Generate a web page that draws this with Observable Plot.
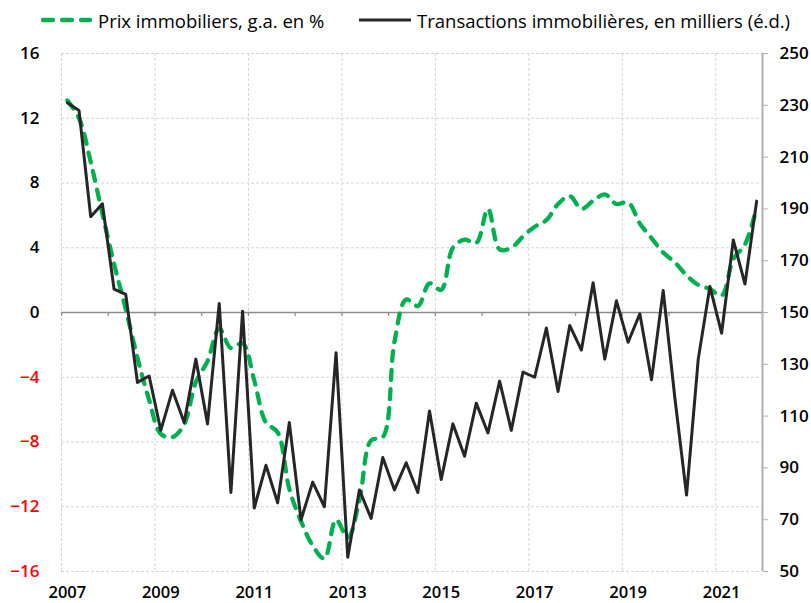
<!DOCTYPE html>
<html>
<head>
<meta charset="utf-8">
<script src="https://cdn.jsdelivr.net/npm/d3@7"></script>
<script src="https://cdn.jsdelivr.net/npm/@observablehq/plot@0.6"></script>
<style>
  body { margin: 0; background: #fff; font-family: "Open Sans", "Noto Sans", sans-serif; }
  #legend { position: relative; width: 811px; height: 40px; font-size: 18.5px; color: #000; }
  #legend .item { position: absolute; top: 0; height: 40px; display: flex; align-items: center; white-space: nowrap; }
  #legend svg { margin-right: 6px; }
</style>
</head>
<body>
<div id="legend">
  <div class="item" style="left:40px">
    <svg width="52" height="10"><line x1="3" y1="5" x2="50" y2="5" stroke="#00b050" stroke-width="4.3" stroke-dasharray="10,9" stroke-linecap="round"/></svg>
    <span>Prix immobiliers, g.a. en %</span>
  </div>
  <div class="item" style="left:359px">
    <svg width="52" height="10"><line x1="0" y1="5" x2="52" y2="5" stroke="#262626" stroke-width="3"/></svg>
    <span>Transactions immobilières, en milliers (é.d.)</span>
  </div>
</div>
<div id="chart"></div>
<script>
// Quarterly data, 2007Q1 to 2021Q4
const startYear = 2007;
const prixImmobiliers = [
  13.1, 12.0, 9.3, 6.1, 3.0, 0.2, -2.8, -5.4, -7.5, -7.7,
  -6.9, -4.3, -3.0, -1.0, -2.2, -1.9, -4.2, -6.8, -7.4, -10.9,
  -12.9, -14.4, -15.2, -12.8, -13.9, -11.6, -7.9, -7.7, -1.8, 0.8,
  0.4, 1.8, 1.4, 4.0, 4.5, 4.3, 6.4, 3.9, 4.0, 4.7,
  5.3, 5.7, 6.7, 7.2, 6.4, 6.9, 7.3, 6.7, 6.8, 5.5,
  4.6, 3.7, 3.1, 2.3, 1.7, 1.45, 1.05, 3.3, 4.2, 6.5
];
const transactions = [
  231, 228, 187, 192, 159, 157, 123, 125.5, 104.5, 120,
  107.5, 132, 107, 153.5, 80.5, 150.5, 74.5, 91, 76.5, 107.5,
  70, 84.5, 75, 134.5, 55.5, 81.5, 70.5, 94, 81.5, 92,
  80.5, 112, 85.5, 107, 94.5, 115, 103.5, 123.5, 104.5, 127,
  125, 144, 119.5, 145, 135.5, 161.5, 132, 154.5, 138.5, 149.5,
  124, 158.5, 117, 79.5, 132, 160, 142, 178, 161, 193
];
const leftTicks = [-16, -12, -8, -4, 0, 4, 8, 12, 16];
const rightTicks = [50, 70, 90, 110, 130, 150, 170, 190, 210, 230, 250];
const yearLabels = [2007, 2009, 2011, 2013, 2015, 2017, 2019, 2021];
const allYears = d3.range(2007, 2023);

// right axis (transactions) mapped onto left axis (prices)
const rightMid = 150, rightPerLeft = 6.25;
const toLeft = t => (t - rightMid) / rightPerLeft;
const toRight = v => rightMid + v * rightPerLeft;

const data = prixImmobiliers.map((p, i) => ({
  date: startYear + (i + 0.5) / 4,
  prix: p,
  trans: transactions[i]
}));

const gridColor = "#d4d4d4";
const tickFont = { fontSize: 17, fontWeight: 600 };
const chart = Plot.plot({
  width: 811,
  height: 563,
  marginTop: 13,
  marginBottom: 32,
  marginLeft: 61,
  marginRight: 49,
  style: { fontFamily: "'Open Sans', 'Noto Sans', sans-serif", fontSize: "17px", color: "#000", background: "#fff" },
  x: { domain: [2007, 2022], label: null },
  y: { domain: [-16, 16], label: null },
  marks: [
    Plot.gridY(leftTicks.filter(d => d !== 0), { stroke: gridColor, strokeOpacity: 1, strokeDasharray: "3,2" }),
    Plot.gridX(yearLabels, { stroke: gridColor, strokeOpacity: 1, strokeDasharray: "3,2" }),
    Plot.ruleY([0], { stroke: "#8c8c8c", strokeWidth: 1.5 }),
    Plot.ruleX(allYears, { y1: 0, y2: 0, insetBottom: -4, stroke: "#8c8c8c", strokeWidth: 1.2 }),
    Plot.ruleX([2022], { stroke: "#b0b0b0", strokeWidth: 2 }),
    Plot.axisY(rightTicks.map(toLeft), {
      anchor: "right", tickFormat: d => String(Math.round(toRight(d))),
      tickSize: 5, tickPadding: 12, stroke: "#b0b0b0", fill: "#000", label: null, ...tickFont
    }),
    Plot.axisY(leftTicks.filter(d => d >= 0), { anchor: "left", tickSize: 0, tickPadding: 22, fill: "#000", label: null, ...tickFont }),
    Plot.axisY(leftTicks.filter(d => d < 0), { anchor: "left", tickSize: 0, tickPadding: 22, fill: "#ff0000", label: null, ...tickFont }),
    Plot.axisX(yearLabels.map(y => y + 0.125), {
      anchor: "bottom", tickFormat: d => String(Math.floor(d)), tickSize: 0, tickPadding: 15,
      fill: "#000", label: null, fontSize: 16.5, fontWeight: 600
    }),
    Plot.lineY(data, {
      x: "date", y: "prix", stroke: "#00b050", strokeWidth: 4.3,
      strokeDasharray: "10,9", strokeLinecap: "round", curve: "catmull-rom"
    }),
    Plot.lineY(data, {
      x: "date", y: d => toLeft(d.trans), stroke: "#262626", strokeWidth: 3
    })
  ]
});
document.getElementById("chart").appendChild(chart);
</script>
</body>
</html>
